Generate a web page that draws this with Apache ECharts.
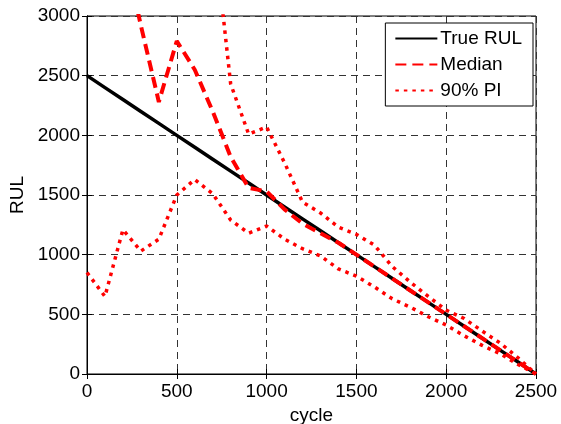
<!DOCTYPE html>
<html><head><meta charset="utf-8">
<script src="https://cdn.jsdelivr.net/npm/echarts@6/dist/echarts.min.js"></script>
<style>html,body{margin:0;padding:0;background:#fff}#c{width:561px;height:424px}</style>
</head><body><div id="c"></div>
<script>
const trueX = [0,100,200,300,400,500,600,700,800,900,1000,1100,1200,1300,1400,1500,1600,1700,1800,1900,2000,2100,2200,2300,2400,2500];
const trueY = [2500,2400,2300,2200,2100,2000,1900,1800,1700,1600,1500,1400,1300,1200,1100,1000,900,800,700,600,500,400,300,200,100,0];
const medX = [200,300,400,500,600,700,800,900,1000,1100,1200,1300,1400,1500,1600,1700,1800,1900,2000,2100,2200,2300,2400,2500];
const medY = [3600,2920,2280,2790,2550,2200,1820,1560,1530,1380,1260,1180,1100,1000,900,800,700,600,500,400,300,200,100,0];
const upX = [700,800,900,1000,1100,1200,1300,1400,1500,1600,1700,1800,1900,2000,2100,2200,2300,2400,2500];
const upY = [3800,2430,2010,2070,1770,1440,1350,1230,1170,1080,900,770,650,535,465,360,260,135,0];
const loX = [0,100,200,300,400,500,600,700,800,900,1000,1100,1200,1300,1400,1500,1600,1700,1800,1900,2000,2100,2200,2300,2400,2500];
const loY = [850,650,1210,1030,1130,1500,1630,1510,1290,1180,1240,1130,1050,990,880,820,730,630,560,480,410,320,240,170,80,0];
const xTicks = [0,500,1000,1500,2000,2500];
const yTicks = [0,500,1000,1500,2000,2500,3000];

const pair = (xs, ys) => xs.map((x, i) => [x, ys[i]]);
const FONT = 'Liberation Sans';
const gridLine = {show:true, lineStyle:{color:'#333', type:[7,5], width:1}};
const chart = echarts.init(document.getElementById('c'));
chart.setOption({
  animation:false,
  textStyle:{fontFamily:FONT},
  grid:{left:87, right:25, top:16, bottom:50, show:true, borderColor:'#000', borderWidth:1, containLabel:false, outerBoundsMode:'none'},
  legend:{
    right:28, top:23, orient:'vertical', backgroundColor:'#fff', borderColor:'#000', borderWidth:1,
    padding:[6,11,6,9], itemGap:7, itemWidth:42, itemHeight:14,
    textStyle:{fontFamily:FONT, fontSize:19, color:'#000', padding:[0,0,0,-2]},
    itemStyle:{opacity:0},
    data:['True RUL','Median','90% PI']
  },
  xAxis:[{
    type:'value', min:0, max:2500, interval:500,
    name:'cycle', nameLocation:'middle', nameGap:30,
    nameTextStyle:{fontFamily:FONT, fontSize:19, color:'#000'},
    axisLine:{show:true, lineStyle:{color:'#000', width:1}},
    axisTick:{show:true, inside:true, length:5, lineStyle:{color:'#000'}},
    axisLabel:{fontFamily:FONT, fontSize:19, color:'#000', margin:8,
      formatter:v => xTicks.includes(v) ? String(v) : ''},
    splitLine:gridLine
  },{
    type:'value', min:0, max:2500, interval:500, position:'top',
    axisLine:{show:true, lineStyle:{color:'#000'}},
    axisTick:{show:true, inside:true, length:5, lineStyle:{color:'#000'}},
    axisLabel:{show:false}, splitLine:{show:false}
  }],
  yAxis:[{
    type:'value', min:0, max:3000, interval:500,
    name:'RUL', nameLocation:'middle', nameGap:59, nameRotate:90,
    nameTextStyle:{fontFamily:FONT, fontSize:19, color:'#000'},
    axisLine:{show:true, lineStyle:{color:'#000', width:1}},
    axisTick:{show:true, inside:true, length:5, lineStyle:{color:'#000'}},
    axisLabel:{fontFamily:FONT, fontSize:19, color:'#000', margin:7,
      formatter:v => yTicks.includes(v) ? String(v) : ''},
    splitLine:gridLine
  },{
    type:'value', min:0, max:3000, interval:500, position:'right',
    axisLine:{show:true, lineStyle:{color:'#000'}},
    axisTick:{show:true, inside:true, length:5, lineStyle:{color:'#000'}},
    axisLabel:{show:false}, splitLine:{show:false}
  }],
  series:[
    {name:'True RUL', type:'line', data:pair(trueX,trueY), showSymbol:false, symbol:'none', z:3,
      lineStyle:{color:'#000', width:3.5}, itemStyle:{color:'#000'}},
    {name:'Median', type:'line', data:pair(medX,medY), showSymbol:false, symbol:'none', z:4, clip:true,
      lineStyle:{color:'#ff0000', width:4, type:[11,6]}, itemStyle:{color:'#ff0000'}},
    {name:'90% PI', type:'line', data:pair(upX,upY), showSymbol:false, symbol:'none', z:4, clip:true,
      lineStyle:{color:'#ff0000', width:3.5, type:[3.5,5]}, itemStyle:{color:'#ff0000'}},
    {name:'90% PI', type:'line', data:pair(loX,loY), showSymbol:false, symbol:'none', z:4, clip:true,
      lineStyle:{color:'#ff0000', width:3.5, type:[3.5,5]}, itemStyle:{color:'#ff0000'}}
  ]
});
</script></body></html>
